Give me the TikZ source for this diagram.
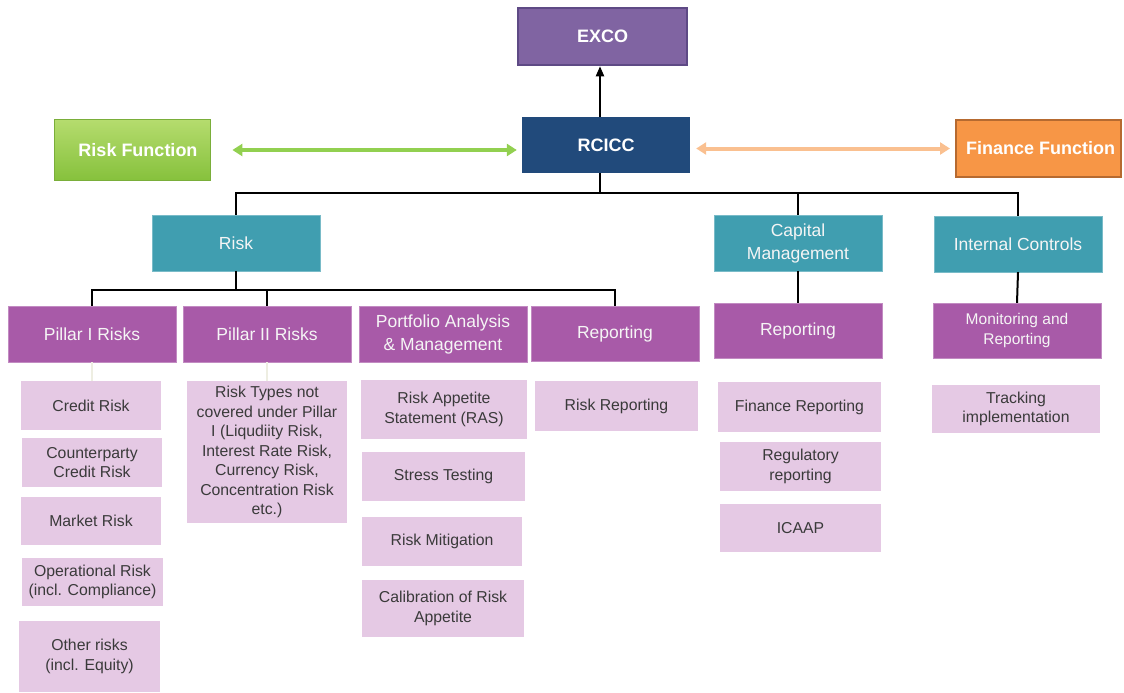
\documentclass[tikz,border=0pt]{standalone}
\usepackage{fontspec}
\setmainfont{Liberation Sans}
\usetikzlibrary{arrows.meta}
\definecolor{excofill}{HTML}{8064A2}
\definecolor{excodraw}{HTML}{5E4A85}
\definecolor{rcfill}{HTML}{214A7B}
\definecolor{gtop}{HTML}{B5DC6E}
\definecolor{gbot}{HTML}{86C13C}
\definecolor{gdraw}{HTML}{7AAE3A}
\definecolor{garr}{HTML}{92D050}
\definecolor{ofill}{HTML}{F79646}
\definecolor{odraw}{HTML}{B66A30}
\definecolor{oarr}{HTML}{FAC090}
\definecolor{teal}{HTML}{409EB0}
\definecolor{purp}{HTML}{A85AA8}
\definecolor{lav}{HTML}{E5C9E4}
\definecolor{txt}{HTML}{3A3A3A}
\definecolor{faint}{HTML}{EEEEE2}
\tikzset{
  topbox/.style={inner sep=0pt, align=center, text=white, font=\bfseries\fontsize{18}{21}\selectfont},
  hdr/.style={fill=teal, draw=teal!70!white, inner sep=0pt, align=center, text=white!96!black, font=\fontsize{17.5}{23}\selectfont},
  ph/.style={fill=purp, draw=purp!70!white, inner sep=0pt, align=center, text=white!96!black, font=\fontsize{17.5}{23}\selectfont},
  sub/.style={fill=lav, inner sep=0pt, align=center, text=txt, font=\fontsize{15.8}{19.5}\selectfont},
  conn/.style={line width=2pt, black},
  fconn/.style={line width=1.5pt, faint},
}
\begin{document}
\begin{tikzpicture}[x=1pt,y=-1pt]
\useasboundingbox (0,0) rectangle (1124,693);
% top level
\node[topbox, fill=excofill, draw=excodraw, line width=2.5pt, minimum width=169pt, minimum height=57pt] (exco) at (602.5,36.5) {EXCO};
\node[topbox, fill=rcfill, minimum width=168pt, minimum height=56pt] (rcicc) at (606,145) {RCICC};
\node[topbox, top color=gtop, bottom color=gbot, draw=gdraw, line width=0.8pt, minimum width=156pt, minimum height=61pt] (rf) at (132,150) {\hspace*{12pt}Risk Function};
\node[topbox, fill=ofill, draw=odraw, line width=2pt, minimum width=165pt, minimum height=57pt] (ff) at (1038.5,148.5) {\hspace*{4pt}Finance Function};
% second level
\node[hdr, minimum width=168pt, minimum height=56pt] (risk) at (236,243) {Risk};
\node[hdr, minimum width=168pt, minimum height=56pt] (cap) at (798,243) {Capital\\Management};
\node[hdr, minimum width=168pt, minimum height=56pt] (ic) at (1018,244) {Internal Controls};
% third level
\node[ph, minimum width=168pt, minimum height=56pt] (p1) at (92,334) {Pillar I Risks};
\node[ph, minimum width=168pt, minimum height=56pt] (p2) at (267,334) {Pillar II Risks};
\node[ph, minimum width=168pt, minimum height=56pt] (pa) at (443,334) {Portfolio Analysis\\\& Management};
\node[ph, minimum width=168pt, minimum height=55pt] (rep1) at (615,333.5) {Reporting};
\node[ph, minimum width=168pt, minimum height=55pt] (rep2) at (798,330.5) {Reporting};
\node[ph, minimum width=168pt, minimum height=55pt, font=\fontsize{15.5}{20}\selectfont] (mon) at (1017,330.5) {Monitoring and\\Reporting};
% leaves
\node[sub, minimum width=140pt, minimum height=49pt] (credit) at (91,405.5) {Credit Risk};
\node[sub, minimum width=140pt, minimum height=49pt] (cpty) at (92,462.5) {Counterparty\\Credit Risk};
\node[sub, minimum width=140pt, minimum height=48pt] (market) at (91,521) {Market Risk};
\node[sub, minimum width=141pt, minimum height=48pt] (oper) at (92.5,582) {Operational Risk\\(incl. Compliance)};
\node[sub, minimum width=141pt, minimum height=71pt] (other) at (89.5,656.5) {Other risks\\(incl. Equity)};
\node[sub, minimum width=160pt, minimum height=142pt] (rtypes) at (267,452) {Risk Types not\\covered under Pillar\\I (Liqudiity Risk,\\Interest Rate Risk,\\Currency Risk,\\Concentration Risk\\etc.)};
\node[sub, minimum width=166pt, minimum height=59pt] (ras) at (444,409.5) {Risk Appetite\\Statement (RAS)};
\node[sub, minimum width=163pt, minimum height=49pt] (stress) at (443.5,476.5) {Stress Testing};
\node[sub, minimum width=160pt, minimum height=49pt] (mitig) at (442,541.5) {Risk Mitigation};
\node[sub, minimum width=162pt, minimum height=57pt] (calib) at (443,608.5) {Calibration of Risk\\Appetite};
\node[sub, minimum width=163pt, minimum height=50pt] (rrep) at (616.5,406) {Risk Reporting};
\node[sub, minimum width=163pt, minimum height=50pt] (frep) at (799.5,407) {Finance Reporting};
\node[sub, minimum width=161pt, minimum height=49pt] (reg) at (800.5,466.5) {Regulatory\\reporting};
\node[sub, minimum width=161pt, minimum height=48pt] (icaap) at (800.5,528) {ICAAP};
\node[sub, minimum width=168pt, minimum height=48pt] (track) at (1016,409) {Tracking\\implementation};
% connectors
\coordinate (j1) at (600,193);
\coordinate (j2) at (236,290);
\draw[conn, -{Triangle[length=10pt,width=8pt]}] (j1 |- rcicc.north) -- (j1 |- exco.south);
\draw[conn] (j1 |- rcicc.south) -- (j1);
\draw[conn] (j1) -| (risk.north);
\draw[conn] (j1) -| (cap.north);
\draw[conn] (j1) -| (ic.north);
\draw[conn] (risk.south) -- (j2);
\draw[conn] (j2) -| (p1.north);
\draw[conn] (j2) -| (p2.north);
\draw[conn] (j2) -| (rep1.north);
\draw[conn] (cap.south) -- (rep2.north);
\draw[conn] (ic.south) -- (mon.north);
\draw[fconn] (p1.south) -- (p1.south |- credit.north);
\draw[fconn] (p2.south) -- (rtypes.north);
% double arrows
\draw[line width=4pt, garr, {Triangle[length=10pt,width=12pt]}-{Triangle[length=10pt,width=12pt]}, shorten <=22pt, shorten >=5pt] (rf.east) -- (rf.east -| rcicc.west);
\draw[line width=4pt, oarr, {Triangle[length=10pt,width=12pt]}-{Triangle[length=10pt,width=12pt]}, shorten <=6pt, shorten >=5pt] (rcicc.east |- ff.west) -- (ff.west);
\end{tikzpicture}
\end{document}
